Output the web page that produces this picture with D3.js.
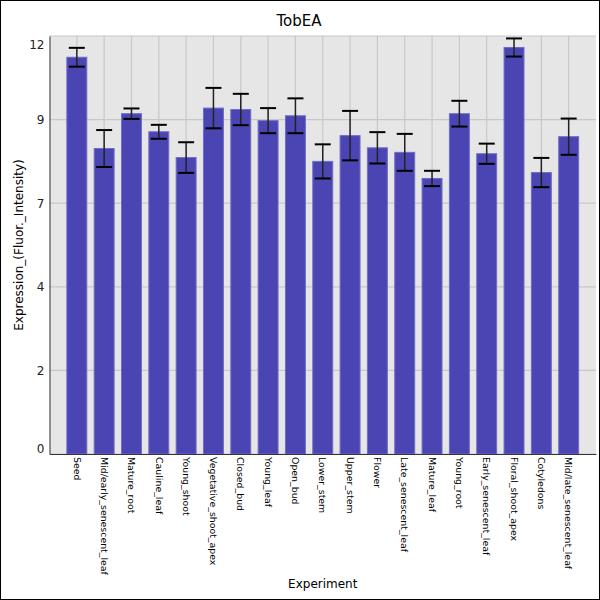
<!DOCTYPE html>
<html>
<head>
<meta charset="utf-8">
<script src="https://cdn.jsdelivr.net/npm/d3@7"></script>
<style>
  body { margin: 0; background: #fff; }
  svg { display: block; font-family: "DejaVu Sans", sans-serif; }
</style>
</head>
<body>
<div id="chart"></div>
<script>
// Bar chart with error bars: TobEA expression per experiment

const categories = [
    "Seed", "Mid/early_senescent_leaf", "Mature_root", "Cauline_leaf", "Young_shoot",
    "Vegetative_shoot_apex", "Closed_bud", "Young_leaf", "Open_bud", "Lower_stem",
    "Upper_stem", "Flower", "Late_senescent_leaf", "Mature_leaf", "Young_root",
    "Early_senescent_leaf", "Floral_shoot_apex", "Cotyledons", "Mid/late_senescent_leaf"
];
const values = [
    11.39, 8.77, 9.77, 9.25, 8.51,
    9.93, 9.89, 9.57, 9.71, 8.40,
    9.14, 8.79, 8.66, 7.91, 9.77,
    8.62, 11.67, 8.08, 9.11
];
const errors = [
    0.27, 0.53, 0.15, 0.20, 0.44,
    0.58, 0.45, 0.36, 0.50, 0.49,
    0.71, 0.45, 0.53, 0.22, 0.37,
    0.29, 0.26, 0.42, 0.52
];
const yTickValues = [0, 2.4, 4.8, 7.2, 9.6, 12];
const yTickLabels = ["0", "2", "4", "7", "9", "12"];

const data = categories.map((c, i) => ({ name: c, value: values[i], err: errors[i] }));

const width = 600, height = 600;
const plot = { left: 49.5, right: 596, top: 36, bottom: 454 };

const svg = d3.select("#chart")
    .append("svg")
    .attr("width", width)
    .attr("height", height);

// Background and outer border
svg.append("rect")
    .attr("x", 0.5).attr("y", 0.5)
    .attr("width", width - 1).attr("height", height - 1)
    .attr("fill", "#fff")
    .attr("stroke", "#000");

svg.append("rect")
    .attr("x", plot.left).attr("y", plot.top)
    .attr("width", plot.right - plot.left)
    .attr("height", plot.bottom - plot.top)
    .attr("fill", "#e6e6e6");

// Scales
const x = d3.scaleBand()
    .domain(categories)
    .range([plot.left, plot.right])
    .paddingInner(0.27)
    .paddingOuter(0.635);

const y = d3.scaleLinear()
    .domain([0, 12])
    .range([plot.bottom, plot.top]);

const cx = d => x(d) + x.bandwidth() / 2;

// Grid lines
svg.append("g")
    .selectAll("line")
    .data(yTickValues)
    .enter()
    .append("line")
    .attr("x1", plot.left).attr("x2", plot.right)
    .attr("y1", d => y(d)).attr("y2", d => y(d))
    .attr("stroke", "#c8c8c8")
    .attr("stroke-width", 1.2);

svg.append("g")
    .selectAll("line")
    .data(categories)
    .enter()
    .append("line")
    .attr("x1", d => cx(d)).attr("x2", d => cx(d))
    .attr("y1", plot.top).attr("y2", plot.bottom)
    .attr("stroke", "#c8c8c8")
    .attr("stroke-width", 1.2);

// Bars
svg.append("g")
    .selectAll("rect")
    .data(data)
    .enter()
    .append("rect")
    .attr("x", d => x(d.name))
    .attr("y", d => y(d.value))
    .attr("width", x.bandwidth())
    .attr("height", d => plot.bottom - y(d.value))
    .attr("fill", "#4a45b2")
    .attr("stroke", "#716dc6")
    .attr("stroke-width", 1);

// Error bars
const eb = svg.append("g").selectAll("g")
    .data(data)
    .enter()
    .append("g");

eb.append("line")
    .attr("x1", d => cx(d.name)).attr("x2", d => cx(d.name))
    .attr("y1", d => y(d.value + d.err))
    .attr("y2", d => y(d.value - d.err))
    .attr("stroke", "#222")
    .attr("stroke-width", 1.5);

[1, -1].forEach(s => {
    eb.append("line")
        .attr("x1", d => cx(d.name) - 8).attr("x2", d => cx(d.name) + 8)
        .attr("y1", d => y(d.value + s * d.err))
        .attr("y2", d => y(d.value + s * d.err))
        .attr("stroke", "#000")
        .attr("stroke-width", 2);
});

// Axes
const yAxis = svg.append("g")
    .attr("transform", `translate(${plot.left},0)`)
    .call(d3.axisLeft(y)
        .tickValues(yTickValues)
        .tickFormat((d, i) => yTickLabels[i])
        .tickSize(0)
        .tickPadding(5));
yAxis.select(".domain").attr("stroke", "#333");
yAxis.selectAll("text")
    .attr("font-size", "12px")
    .attr("font-family", "DejaVu Sans, sans-serif")
    .attr("fill", "#222")
    .attr("dy", (d, i) => i === 0 ? "-0.15em" : (i === yTickValues.length - 1 ? "1em" : "0.32em"));

const xAxis = svg.append("g")
    .attr("transform", `translate(0,${plot.bottom})`)
    .call(d3.axisBottom(x).tickSize(0));
xAxis.select(".domain").attr("stroke", "#333");
xAxis.selectAll("text")
    .attr("transform", "rotate(90)")
    .attr("x", 3)
    .attr("y", 0)
    .attr("dy", "0.35em")
    .style("text-anchor", "start")
    .attr("font-size", "9.4px")
    .attr("font-family", "DejaVu Sans, sans-serif")
    .attr("fill", "#000");

// Titles
svg.append("text")
    .attr("x", 299)
    .attr("y", 26)
    .attr("text-anchor", "middle")
    .attr("font-size", "15px")
    .attr("fill", "#000")
    .text("TobEA");

svg.append("text")
    .attr("x", (plot.left + plot.right) / 2)
    .attr("y", 588)
    .attr("text-anchor", "middle")
    .attr("font-size", "12px")
    .attr("fill", "#000")
    .text("Experiment");

svg.append("text")
    .attr("transform", "rotate(-90)")
    .attr("x", -(plot.top + plot.bottom) / 2)
    .attr("y", 23)
    .attr("text-anchor", "middle")
    .attr("font-size", "12px")
    .attr("fill", "#000")
    .text("Expression_(Fluor._Intensity)");
</script>
</body>
</html>
